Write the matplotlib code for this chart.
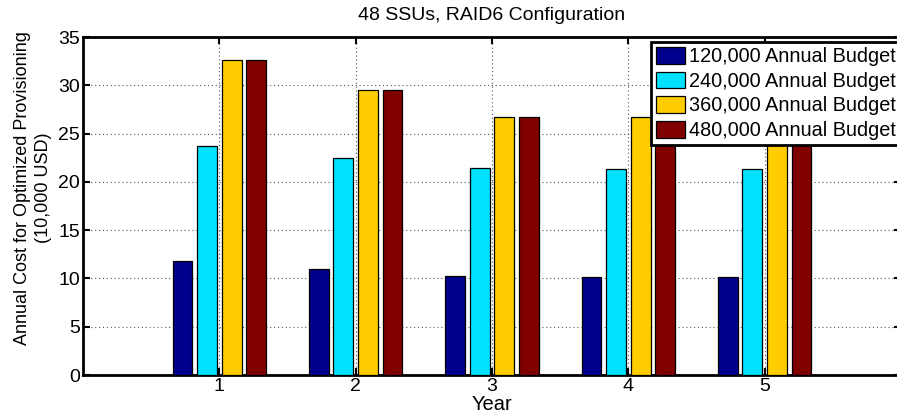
import numpy as np
import matplotlib.pyplot as plt

plt.rcParams['font.family'] = ['Liberation Sans', 'DejaVu Sans']

# annual cost per year for each budget level (10,000 USD)
years = [1, 2, 3, 4, 5]
budgets = ['120,000 Annual Budget', '240,000 Annual Budget',
           '360,000 Annual Budget', '480,000 Annual Budget']
cost_120k = [11.8, 11.0, 10.25, 10.15, 10.1]
cost_240k = [23.7, 22.5, 21.4, 21.35, 21.3]
cost_360k = [32.65, 29.55, 26.75, 26.7, 26.7]
cost_480k = [32.65, 29.55, 26.75, 26.7, 26.7]
colors = ['#00008C', '#00E0FF', '#FFCC00', '#800000']

fig = plt.figure(figsize=(8.97, 4.16), dpi=100)
ax = fig.add_axes([0.0925, 0.0985, 0.912, 0.8125])

x = np.array(years)
width = 0.146
offsets = [-0.27, -0.09, 0.09, 0.27]
series = [cost_120k, cost_240k, cost_360k, cost_480k]
for vals, off, c, lab in zip(series, offsets, colors, budgets):
    ax.bar(x + off, vals, width, color=c, edgecolor='black', linewidth=0.9,
           label=lab, zorder=3)

ax.set_xlim(0, 6)
ax.set_ylim(0, 35)
ax.set_xticks(years)
ax.set_yticks(np.arange(0, 36, 5))
ax.grid(True, linestyle=(0, (1, 2.5)), color='#555555', linewidth=0.8, zorder=0)
ax.tick_params(direction='in', top=True, right=True, length=5, width=1.5,
               labelsize=14, pad=2)
for s in ax.spines.values():
    s.set_linewidth(2)

ax.set_title('48 SSUs, RAID6 Configuration', fontsize=14, pad=12)
ax.set_xlabel('Year', fontsize=14.5, labelpad=0)
ax.set_ylabel('Annual Cost for Optimized Provisioning\n(10,000 USD)',
              fontsize=13, linespacing=1.3)
ax.yaxis.set_label_coords(-0.038, 0.553)

leg = ax.legend(loc='upper right', bbox_to_anchor=(1.0, 0.985), fontsize=14.3,
                frameon=True, fancybox=False, edgecolor='black',
                handlelength=1.45, handleheight=0.9, handletextpad=0.2,
                labelspacing=0.28, borderpad=0.25, borderaxespad=0.0)
leg.get_frame().set_linewidth(2)
leg.get_frame().set_alpha(1)

fig.savefig('out.png', dpi=100)
